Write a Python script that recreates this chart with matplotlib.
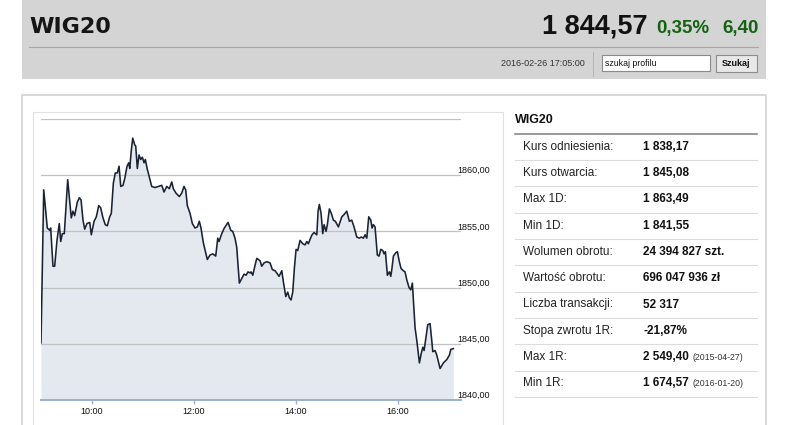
# WIG20 intraday chart, 2016-02-26

import matplotlib
matplotlib.use("Agg")
import matplotlib.pyplot as plt
from matplotlib.patches import Rectangle

plt.rcParams['font.family'] = ['Liberation Sans', 'DejaVu Sans']

# minutes after 09:00 and index level
minutes = [0, 3.2, 7.4, 10.2, 11.4, 14.1, 16.1, 18.8, 21.5, 23.2, 25.1, 27.4, 31.4, 35.6,
           37.6, 39.6, 42.7, 45.1, 47.1, 49.4, 51.4, 54.1, 57.3, 59.2, 62.4, 65.1, 67.9,
           70.2, 72.9, 75.6, 78.0, 80.8, 82.7, 85.1, 87.4, 89.8, 91.8, 93.8, 96.5, 98.5,
           101.2, 103.2, 104.4, 106.2, 107.9, 110.2, 111.4, 113.3, 115.3, 117.3, 119.2,
           121.2, 122.7, 125.1, 126.2, 130.2, 134.1, 138.0, 142.0, 144.7, 147.9, 150.9,
           153.8, 155.6, 158.8, 162.7, 165.5, 168.2, 170.2, 172.1, 175.3, 178.0, 181.2,
           183.9, 186.2, 188.2, 190.9, 195.6, 198.8, 202.0, 205.5, 207.9, 209.4, 212.6,
           215.6, 220.0, 223.2, 225.5, 228.2, 230.2, 233.3, 236.1, 238.8, 241.2, 243.5,
           245.9, 247.1, 249.1, 251.8, 253.8, 257.6, 259.6, 262.4, 265.5, 269.4, 272.1,
           275.3, 277.3, 280.0, 283.2, 285.1, 287.9, 290.2, 292.1, 294.1, 296.1, 298.0,
           300.0, 302.0, 304.7, 307.9, 310.6, 312.6, 314.5, 316.5, 318.8, 321.2, 324.4,
           325.9, 327.4, 329.4, 331.4, 333.0, 335.3, 336.8, 339.2, 341.5, 343.9, 346.2,
           349.8, 353.8, 356.5, 359.6, 362.7, 365.5, 368.2, 371.4, 374.5, 376.5, 379.2,
           381.2, 383.2, 385.5, 387.9, 389.4, 390.9, 392.9, 395.6, 397.6, 399.6, 402.0,
           403.5, 405.1, 407.4, 409.8, 411.4, 412.6, 414.5, 417.3, 419.2, 421.5, 423.5,
           426.2, 428.2, 430.2, 432.9, 434.9, 436.8, 438.0, 440.0, 442.0, 445.1, 447.1,
           449.1, 450.6, 452.9, 454.9, 457.6, 459.6, 460.8, 463.5, 465.5, 469.4, 473.3,
           477.3, 480.4, 482.0, 485.0]
values = [1845.08, 1858.7, 1855.3, 1855.1, 1855.3, 1851.9, 1851.9, 1854.2, 1855.7, 1854.1,
          1854.8, 1854.8, 1859.6, 1856.2, 1856.8, 1856.4, 1857.6, 1858.0, 1857.8, 1856.0,
          1855.2, 1855.7, 1855.8, 1854.7, 1855.9, 1856.3, 1857.3, 1857.1, 1856.2, 1855.6,
          1855.5, 1856.3, 1856.6, 1859.3, 1860.2, 1860.2, 1860.8, 1859.0, 1859.1, 1859.7,
          1860.8, 1861.1, 1860.6, 1862.2, 1863.3, 1862.7, 1862.6, 1860.6, 1861.8, 1861.4,
          1861.6, 1861.1, 1861.4, 1860.5, 1860.2, 1859.0, 1858.9, 1859.0, 1859.1, 1858.5,
          1859.0, 1858.8, 1859.4, 1858.8, 1858.4, 1858.1, 1858.4, 1859.0, 1858.7, 1857.3,
          1856.6, 1855.7, 1855.3, 1855.4, 1855.9, 1855.3, 1854.0, 1852.5, 1852.9, 1853.0,
          1852.8, 1854.4, 1854.1, 1854.8, 1855.3, 1855.8, 1855.1, 1855.0, 1854.4, 1853.6,
          1850.4, 1850.8, 1851.2, 1851.1, 1851.4, 1851.3, 1851.4, 1851.1, 1852.0, 1852.6,
          1852.4, 1851.9, 1852.2, 1852.3, 1852.2, 1851.6, 1851.5, 1851.3, 1851.0, 1851.5,
          1850.5, 1849.2, 1849.6, 1849.1, 1848.9, 1849.6, 1851.7, 1853.4, 1853.3, 1854.2,
          1853.9, 1853.8, 1854.1, 1853.9, 1854.3, 1854.7, 1854.9, 1854.7, 1856.8, 1857.4,
          1856.6, 1854.8, 1855.6, 1855.0, 1855.6, 1857.0, 1856.6, 1856.0, 1855.9, 1855.4,
          1856.3, 1856.5, 1856.8, 1855.9, 1856.0, 1855.4, 1854.5, 1854.4, 1854.5, 1854.4,
          1854.7, 1854.4, 1856.3, 1856.0, 1855.3, 1855.6, 1855.4, 1852.9, 1852.8, 1853.4,
          1853.3, 1853.0, 1853.2, 1851.1, 1851.4, 1851.0, 1851.6, 1852.8, 1853.1, 1853.2,
          1852.3, 1851.7, 1851.5, 1851.4, 1850.7, 1850.0, 1849.8, 1850.4, 1848.9, 1846.4,
          1845.3, 1843.3, 1844.1, 1844.7, 1844.4, 1845.6, 1846.7, 1846.8, 1845.3, 1844.3,
          1844.4, 1844.0, 1842.8, 1843.3, 1843.6, 1844.0, 1844.5, 1844.57]

hour_ticks = [60, 180, 300, 420]
hour_labels = ['10:00', '12:00', '14:00', '16:00']
level_ticks = [1840, 1845, 1850, 1855, 1860]
level_labels = ['1840,00', '1845,00', '1850,00', '1855,00', '1860,00']
grid_levels = [1845, 1850, 1855, 1860, 1865]

# right-hand summary table
row_names = ['Kurs odniesienia:', 'Kurs otwarcia:', 'Max 1D:', 'Min 1D:', 'Wolumen obrotu:',
             'Wartość obrotu:', 'Liczba transakcji:', 'Stopa zwrotu 1R:', 'Max 1R:', 'Min 1R:']
row_values = ['1 838,17', '1 845,08', '1 863,49', '1 841,55', '24 394 827 szt.',
              '696 047 936 zł', '52 317', '-21,87%', '2 549,40', '1 674,57']
row_dates = ['', '', '', '', '', '', '', '', '(2015-04-27)', '(2016-01-20)']

W, H = 786, 425
fig = plt.figure(figsize=(W / 100, H / 100), dpi=100)

# page background drawn in pixel coordinates
bg = fig.add_axes([0, 0, 1, 1])
bg.set_xlim(0, W)
bg.set_ylim(H, 0)
bg.axis('off')

# header bar
bg.add_patch(Rectangle((21.5, 0), 744.5, 79, fc='#d4d4d4', ec='none'))
bg.plot([29, 758], [47, 47], color='#a6a6a6', lw=0.8)
bg.text(29, 32.5, 'WIG20', fontsize=16, weight='bold', va='baseline', color='#151515',
        family='DejaVu Sans')
bg.text(648, 33, '1 844,57', ha='right', va='baseline', fontsize=19.5, weight='bold', color='#111111')
bg.text(656, 32.5, '0,35%', va='baseline', fontsize=13.5, weight='bold', color='#136313')
bg.text(722, 32.5, '6,40', va='baseline', fontsize=13.5, weight='bold', color='#136313')

bg.text(585, 63.5, '2016-02-26 17:05:00', ha='right', va='center', fontsize=6.5, color='#333333')
bg.plot([593, 593], [52, 76], color='#b5b5b5', lw=0.7)
bg.add_patch(Rectangle((602, 55), 108, 16, fc='white', ec='#8a8a8a', lw=0.8))
bg.text(605, 63.3, 'szukaj profilu', fontsize=6.3, va='center', color='#111111')
bg.add_patch(Rectangle((716, 55), 41, 17, fc='#e8e8e8', ec='#8c8c8c', lw=0.8))
bg.text(736.5, 63.5, 'Szukaj', fontsize=6.5, weight='bold', ha='center', va='center', color='#111111')

# panel borders
bg.plot([22, 22, 766, 766], [426, 95, 95, 426], color='#d6d6d6', lw=1.3)
bg.plot([33, 33, 503, 503], [426, 112, 112, 426], color='#e2e2e2', lw=0.8)

# table
bg.text(515, 119.5, 'WIG20', fontsize=9, weight='bold', va='center', color='#111111')
bg.plot([515, 757], [133.5, 133.5], color='#7d7d7d', lw=1.1)
for i, (name, val, date) in enumerate(zip(row_names, row_values, row_dates)):
    y = 146.7 + i * 26.3
    bg.text(523, y, name, fontsize=8.5, va='center', color='#222222')
    t = bg.text(643, y, val, fontsize=8.5, va='center', weight='bold', color='#111111')
    if date:
        bg.annotate(date, xy=(1, 0.5), xycoords=t, xytext=(2.5, 0), textcoords='offset points',
                    fontsize=6.3, va='center', color='#333333')
    bg.plot([515, 757], [y + 13.4, y + 13.4], color='#dcdcdc', lw=0.8)

# intraday chart
ax = fig.add_axes([41 / W, 1 - 400 / H, 420 / W, 281 / H])
ax.patch.set_alpha(0)
ax.set_xlim(0, 494)
ax.set_ylim(1840, 1865)
ax.fill_between(minutes, values, 1840, color='#e4e8ef', lw=0, zorder=1)
for lvl in grid_levels:
    ax.axhline(lvl, color='#c2c2c2', lw=0.9, zorder=1.5)
ax.plot(minutes, values, color='#1a2333', lw=1.15, zorder=2)

for side in ['top', 'left', 'right']:
    ax.spines[side].set_visible(False)
ax.spines['bottom'].set_color('#9fb1cc')
ax.spines['bottom'].set_linewidth(1.5)

ax.set_xticks(hour_ticks)
ax.set_xticklabels(hour_labels)
ax.tick_params(axis='x', length=3, width=1, color='#9fb1cc', labelsize=6.5,
               labelcolor='#111111', pad=2)

ax.yaxis.tick_right()
ax.set_yticks(level_ticks)
ax.set_yticklabels(level_labels)
ax.tick_params(axis='y', length=0, pad=-3, labelsize=6.5, labelcolor='#111111')
for lbl in ax.get_yticklabels():
    lbl.set_va('bottom')

fig.savefig('out.png', dpi=100)
